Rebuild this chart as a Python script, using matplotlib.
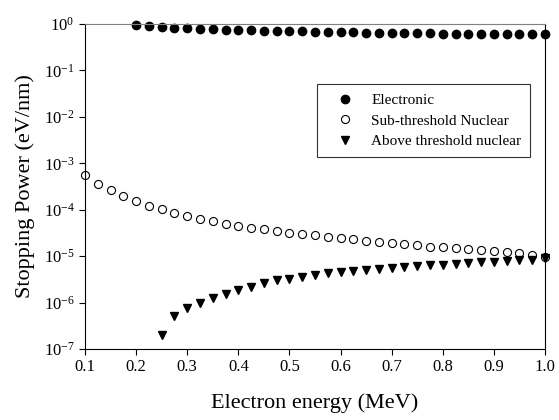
import matplotlib
matplotlib.use("Agg")
import matplotlib.pyplot as plt
from matplotlib.ticker import LogLocator, NullLocator

plt.rcParams["font.family"] = ["Liberation Serif", "DejaVu Serif"]
plt.rcParams["mathtext.fontset"] = "custom"
plt.rcParams["mathtext.rm"] = "Liberation Serif"
plt.rcParams["mathtext.it"] = "Liberation Serif:italic"

# electron energy (MeV)
elec_x = [0.2, 0.225, 0.25, 0.275, 0.3, 0.325, 0.35, 0.375, 0.4, 0.425, 0.45,
          0.475, 0.5, 0.525, 0.55, 0.575, 0.6, 0.625, 0.65, 0.675, 0.7, 0.725,
          0.75, 0.775, 0.8, 0.825, 0.85, 0.875, 0.9, 0.925, 0.95, 0.975, 1.0]
elec_y = [0.95, 0.89, 0.86, 0.83, 0.81, 0.78, 0.77, 0.75, 0.74, 0.73, 0.72,
          0.70, 0.69, 0.69, 0.68, 0.67, 0.67, 0.66, 0.65, 0.65, 0.64, 0.64,
          0.63, 0.63, 0.62, 0.62, 0.62, 0.61, 0.61, 0.61, 0.60, 0.60, 0.60]

sub_x = [0.1, 0.125, 0.15, 0.175, 0.2, 0.225, 0.25, 0.275, 0.3, 0.325, 0.35,
         0.375, 0.4, 0.425, 0.45, 0.475, 0.5, 0.525, 0.55, 0.575, 0.6, 0.625,
         0.65, 0.675, 0.7, 0.725, 0.75, 0.775, 0.8, 0.825, 0.85, 0.875, 0.9,
         0.925, 0.95, 0.975, 1.0]
sub_y = [5.7e-4, 3.5e-4, 2.6e-4, 2.0e-4, 1.55e-4, 1.23e-4, 1.02e-4, 8.7e-5,
         7.4e-5, 6.4e-5, 5.7e-5, 5.0e-5, 4.5e-5, 4.1e-5, 3.8e-5, 3.5e-5,
         3.2e-5, 2.95e-5, 2.8e-5, 2.6e-5, 2.4e-5, 2.3e-5, 2.1e-5, 2.0e-5,
         1.9e-5, 1.8e-5, 1.7e-5, 1.6e-5, 1.55e-5, 1.48e-5, 1.4e-5, 1.35e-5,
         1.27e-5, 1.2e-5, 1.15e-5, 1.07e-5, 9.4e-6]

above_x = [0.25, 0.275, 0.3, 0.325, 0.35, 0.375, 0.4, 0.425, 0.45, 0.475, 0.5,
           0.525, 0.55, 0.575, 0.6, 0.625, 0.65, 0.675, 0.7, 0.725, 0.75,
           0.775, 0.8, 0.825, 0.85, 0.875, 0.9, 0.925, 0.95, 0.975, 1.0]
above_y = [2.0e-7, 5.1e-7, 7.8e-7, 1.0e-6, 1.23e-6, 1.5e-6, 1.9e-6, 2.2e-6,
           2.6e-6, 3.0e-6, 3.3e-6, 3.6e-6, 3.9e-6, 4.3e-6, 4.6e-6, 4.8e-6,
           5.1e-6, 5.4e-6, 5.6e-6, 5.9e-6, 6.1e-6, 6.4e-6, 6.6e-6, 6.9e-6,
           7.1e-6, 7.4e-6, 7.6e-6, 7.9e-6, 8.1e-6, 8.4e-6, 8.9e-6]

x_ticks = [0.1, 0.2, 0.3, 0.4, 0.5, 0.6, 0.7, 0.8, 0.9, 1.0]

fig = plt.figure(figsize=(5.59, 4.2), dpi=100)
ax = fig.add_axes([0.152, 0.169, 0.823, 0.774])

ax.plot(elec_x, elec_y, "o", color="black", ms=6, clip_on=False,
        label="Electronic")
ax.plot(sub_x, sub_y, "o", mfc="white", mec="black", mew=0.8, ms=5.8,
        clip_on=False, label="Sub-threshold Nuclear")
ax.plot(above_x, above_y, "v", color="black", ms=5.8, clip_on=False,
        label="Above threshold nuclear")

ax.set_yscale("log")
ax.set_ylim(1e-7, 1)
ax.set_xlim(0.1, 1.0)
ax.yaxis.set_major_locator(LogLocator(base=10, numticks=10))
ax.yaxis.set_minor_locator(NullLocator())
ax.set_xticks(x_ticks)
ax.set_xticklabels([f"{t:.1f}" for t in x_ticks])

ax.tick_params(direction="out", length=4, width=0.8, labelsize=12,
               top=False, right=False)
for side in ["left", "bottom", "right"]:
    ax.spines[side].set_linewidth(0.8)
ax.spines["top"].set_color("0.5")
ax.spines["top"].set_linewidth(0.8)

ax.set_xlabel("Electron energy (MeV)", fontsize=16, labelpad=13)
ax.set_ylabel("Stopping Power (eV/nm)", fontsize=16, labelpad=6)

leg = ax.legend(loc="upper left", bbox_to_anchor=(0.504, 0.815),
                borderaxespad=0, fontsize=11, frameon=True, fancybox=False,
                edgecolor="black", borderpad=0.6, handlelength=2.5,
                handletextpad=0.45, labelspacing=0.45)
leg.get_frame().set_linewidth(0.8)

fig.savefig("out.png", dpi=100)
